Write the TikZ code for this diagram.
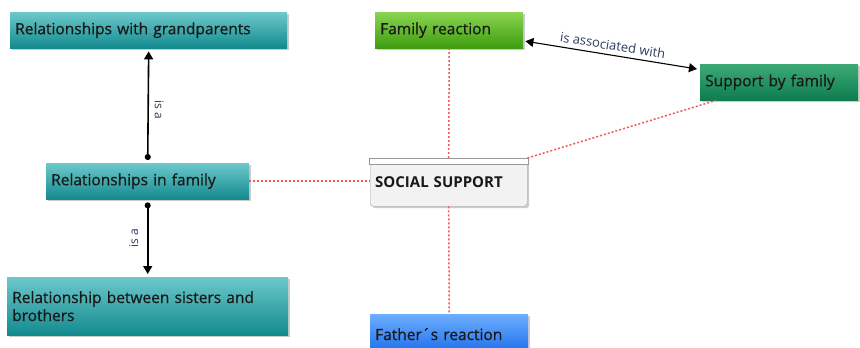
\documentclass[tikz,border=0pt]{standalone}
\usepackage{fontspec}
\setmainfont{Open Sans}
\usepackage{xcolor}
\usetikzlibrary{positioning,shadows,arrows.meta}

\definecolor{tealtop}{HTML}{6CC8CB}
\definecolor{tealbot}{HTML}{138A8E}
\definecolor{greentop}{HTML}{8AD452}
\definecolor{greenbot}{HTML}{3E9C0E}
\definecolor{dgreentop}{HTML}{3DAA76}
\definecolor{dgreenbot}{HTML}{0E7C4E}
\definecolor{bluetop}{HTML}{6CAEFF}
\definecolor{bluebot}{HTML}{1C6CEB}
\definecolor{linkred}{HTML}{F25A5A}
\definecolor{lblblue}{HTML}{2B3B5C}

\begin{document}
\begin{tikzpicture}[x=1pt,y=-1pt,
    concept/.style={anchor=north west, align=left, inner sep=5pt,
      font=\fontsize{15.5}{18}\selectfont\addfontfeature{FakeBold=0.7},
      text=black!90,
      drop shadow={shadow xshift=2pt,shadow yshift=-2pt,opacity=.4}},
    tealbox/.style={concept, top color=tealtop, bottom color=tealbot},
    greenbox/.style={concept, top color=greentop, bottom color=greenbot},
    dgreenbox/.style={concept, top color=dgreentop, bottom color=dgreenbot},
    bluebox/.style={concept, top color=bluetop, bottom color=bluebot},
    isa/.style={{Circle[length=6pt]}-{Triangle[length=8pt,width=9pt]},
      line width=1.6pt, shorten <=3pt, shorten >=3pt},
    link/.style={draw=linkred, dash pattern=on 2pt off 2pt, line width=1.5pt},
    lbl/.style={font=\fontsize{12}{14}\selectfont, text=lblblue}]
  \useasboundingbox (0,0) rectangle (860,348);
  % concepts
  \node[tealbox, text width=267pt, minimum height=36pt] (grand) at (10,12)
    {Relationships with grandparents};
  \node[tealbox, text width=193pt, minimum height=36pt] (fam) at (46,163)
    {Relationships in family};
  \node[tealbox, text width=271pt, minimum height=58pt] (sisters) at (7,277)
    {Relationship between sisters and\\brothers};
  \node[greenbox, text width=138pt, minimum height=36pt] (famreact) at (375,12)
    {Family reaction};
  \node[dgreenbox, text width=148pt, minimum height=36pt] (supfam) at (700,64)
    {Support by family};
  \node[bluebox, text width=148pt, minimum height=40pt] (father) at (370,314)
    {Father´s reaction};
  \node[concept, fill=gray!10, draw=gray!70, rounded corners=3pt,
    text width=147pt, minimum height=48pt,
    font=\fontsize{15}{17}\selectfont\bfseries] (soc) at (370,158)
    {SOCIAL SUPPORT};
  \draw[fill=white, draw=gray!80, line width=.8pt]
    ([xshift=-1pt]soc.north west) rectangle ([xshift=1pt,yshift=-6pt]soc.north east);
  % links
  \draw[link] (fam.east) -- (fam.east -| soc.west);
  \draw[link] (soc.north) -- (famreact.south);
  \draw[link] (soc.south) -- (father.north);
  \draw[link] (soc.north east) -- ([xshift=16pt]supfam.south west);
  \draw[isa] (fam.north) -- (grand.south)
    node[midway, xshift=11pt, yshift=-4pt, rotate=-90, lbl] {is a};
  \draw[isa] (fam.south) -- (sisters.north)
    node[midway, xshift=-14pt, rotate=90, lbl] {is a};
  \draw[{Triangle[length=8pt,width=9pt]}-{Triangle[length=8pt,width=9pt]}, line width=1.1pt]
    ([xshift=2pt,yshift=-11pt]famreact.east) -- ([xshift=-3pt,yshift=-5pt]supfam.north west)
    node[midway, sloped, above=1pt, lbl, font=\fontsize{13}{15}\selectfont] {is associated with};
\end{tikzpicture}
\end{document}
